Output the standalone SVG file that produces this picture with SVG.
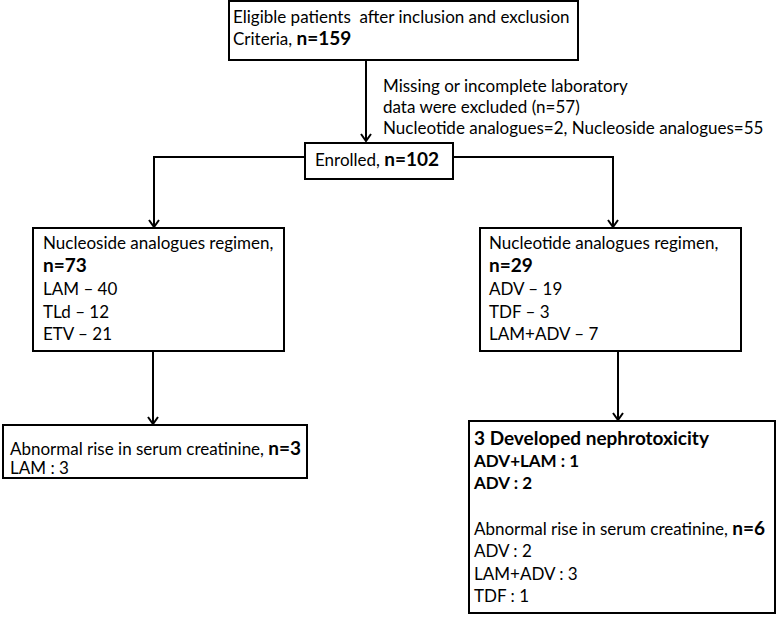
<svg xmlns="http://www.w3.org/2000/svg" width="778" height="617" viewBox="0 0 778 617">
<style>
.box{fill:#fff;stroke:#000;stroke-width:2}
text{font-family:Lato,"Open Sans","Liberation Sans",sans-serif;font-size:17px;fill:#000}
.b{font-weight:bold;font-size:19px}
.bs{font-weight:bold}
.line{fill:none;stroke:#000;stroke-width:2}
</style>
<defs>
<marker id="arr" markerWidth="12" markerHeight="12" refX="10" refY="6" orient="auto" markerUnits="userSpaceOnUse">
<path d="M3,1 L10,6 L3,11" fill="none" stroke="#000" stroke-width="2"/>
</marker>
</defs>
<g id="connectors">
<line class="line" x1="366" y1="60" x2="366" y2="141" marker-end="url(#arr)"/>
<polyline class="line" points="305,157 154,157 154,227" marker-end="url(#arr)"/>
<polyline class="line" points="453,157 613,157 613,227" marker-end="url(#arr)"/>
<line class="line" x1="153" y1="351" x2="153" y2="424" marker-end="url(#arr)"/>
<line class="line" x1="618" y1="351" x2="618" y2="420" marker-end="url(#arr)"/>
</g>
<g id="eligible">
<rect class="box" x="229" y="1" width="349" height="59"/>
<text x="233" y="23" xml:space="preserve">Eligible patients  after inclusion and exclusion</text>
<text x="233" y="45">Criteria, <tspan class="b">n=159</tspan></text>
</g>
<g id="excluded-note">
<text x="383" y="92">Missing or incomplete laboratory</text>
<text x="383" y="113">data were excluded (n=57)</text>
<text x="383" y="134">Nucleotide analogues=2, Nucleoside analogues=55</text>
</g>
<g id="enrolled">
<rect class="box" x="305" y="143" width="148" height="36"/>
<text x="315" y="166">Enrolled, <tspan class="b">n=102</tspan></text>
</g>
<g id="nucleoside">
<rect class="box" x="33" y="228" width="251" height="123"/>
<text x="43" y="249">Nucleoside analogues regimen,</text>
<text x="43" y="272" class="b">n=73</text>
<text x="43" y="295">LAM – 40</text>
<text x="43" y="318">TLd – 12</text>
<text x="43" y="340">ETV – 21</text>
</g>
<g id="nucleotide">
<rect class="box" x="480" y="228" width="261" height="123"/>
<text x="489" y="249">Nucleotide analogues regimen,</text>
<text x="489" y="272" class="b">n=29</text>
<text x="489" y="295">ADV – 19</text>
<text x="489" y="318">TDF – 3</text>
<text x="489" y="340">LAM+ADV – 7</text>
</g>
<g id="nucleoside-outcome">
<rect class="box" x="3" y="425" width="304" height="53"/>
<text x="10" y="455">Abnormal rise in serum creatinine, <tspan class="b">n=3</tspan></text>
<text x="10" y="474">LAM : 3</text>
</g>
<g id="nucleotide-outcome">
<rect class="box" x="469" y="421" width="306" height="192"/>
<text x="474" y="445" class="b">3 Developed nephrotoxicity</text>
<text x="474" y="467" class="bs">ADV+LAM : 1</text>
<text x="474" y="489" class="bs">ADV : 2</text>
<text x="474" y="535">Abnormal rise in serum creatinine, <tspan class="b">n=6</tspan></text>
<text x="474" y="557">ADV : 2</text>
<text x="474" y="580">LAM+ADV : 3</text>
<text x="474" y="602">TDF : 1</text>
</g>
</svg>
